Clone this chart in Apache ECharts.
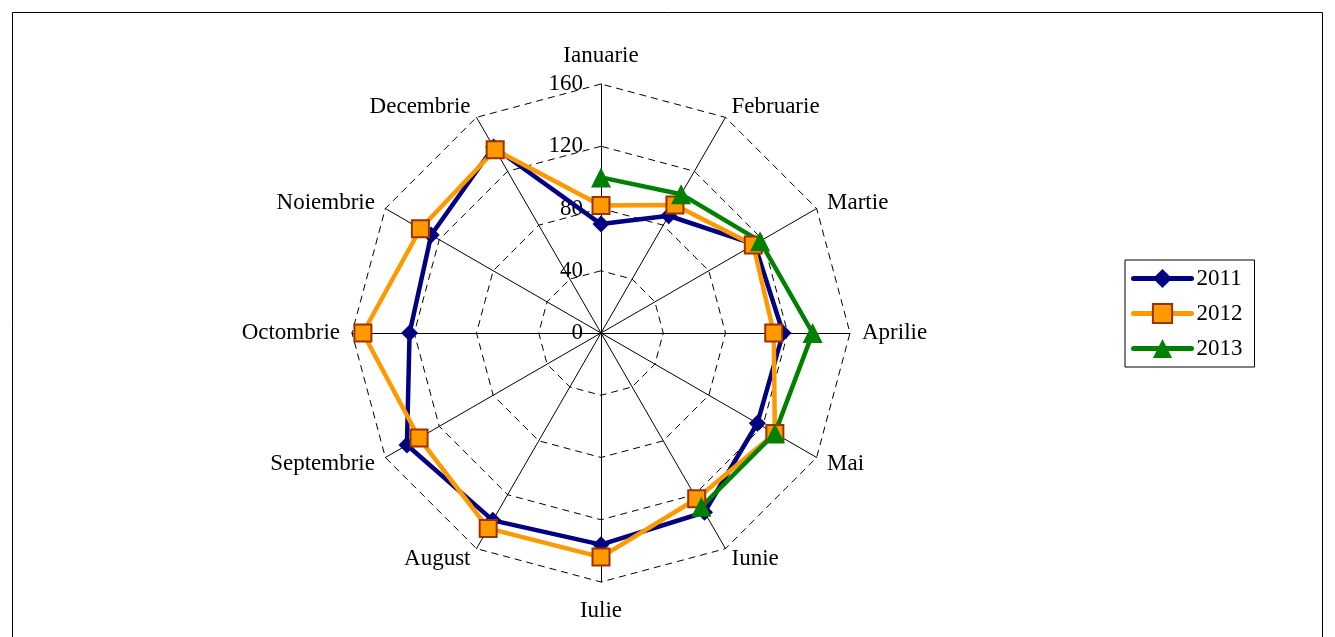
<!DOCTYPE html>
<html><head><meta charset="utf-8">
<script src="https://cdn.jsdelivr.net/npm/echarts@6/dist/echarts.min.js"></script>
<style>html,body{margin:0;padding:0;background:#fff}#c{width:1335px;height:637px}</style>
</head><body><div id="c"></div>
<script>
const months = ['Ianuarie','Februarie','Martie','Aprilie','Mai','Iunie','Iulie','August','Septembrie','Octombrie','Noiembrie','Decembrie'];
const radarMax = 160;
const tickLabels = [0, 40, 80, 120, 160];
const seriesNames = ['2011', '2012', '2013'];
const v2011 = [70, 87, 114, 117, 116, 133, 136, 139, 144, 123, 126, 138];
const v2012 = [82, 95, 113, 111, 129, 123, 144, 145, 135, 153, 134, 136];
const v2013 = [100, 103, 118, 136, 129, 129, null, null, null, null, null, null];

const FONT = 'Liberation Serif';
const n = months.length;

// radar indicators go counter-clockwise, so reorder to keep months clockwise
const indicator = [];
for (let j = 0; j < n; j++) {
  const m = (n - j) % n;
  const ind = { name: months[m], min: 0, max: radarMax };
  if (j !== 0) ind.axisLabel = { show: false };
  if (m === 0 || m === n / 2) ind.nameGap = 17;
  indicator.push(ind);
}

function buildData(vals) {
  const pts = [];
  vals.forEach((v, i) => { if (v != null) pts.push([v, i]); });
  if (vals.every(v => v != null)) pts.push({ value: [vals[0], n], symbol: 'none' });
  return pts;
}

const chart = echarts.init(document.getElementById('c'));
chart.setOption({
  animation: false,
  backgroundColor: '#fff',
  textStyle: { fontFamily: FONT, color: '#000' },
  graphic: [{
    type: 'rect', shape: { x: 12.5, y: 12.5, width: 1310, height: 700 },
    style: { fill: 'none', stroke: '#000', lineWidth: 1 }, silent: true
  }],
  radar: {
    center: [601, 333],
    radius: 249,
    startAngle: 90,
    splitNumber: tickLabels.length - 1,
    shape: 'polygon',
    indicator: indicator,
    nameGap: 12,
    axisName: { color: '#000', fontFamily: FONT, fontSize: 23 },
    splitLine: { lineStyle: { color: '#000', width: 1, type: [7, 5] } },
    splitArea: { show: false },
    axisLine: { lineStyle: { color: '#000', width: 1 } },
    axisTick: { show: false },
    axisLabel: { show: true, color: '#000', fontFamily: FONT, fontSize: 23, margin: 18,
      formatter: v => tickLabels.indexOf(v) >= 0 ? String(v) : '' }
  },
  polar: { center: [601, 333], radius: 249 },
  angleAxis: { type: 'value', min: 0, max: n, startAngle: 90, clockwise: true, show: false },
  radiusAxis: { type: 'value', min: 0, max: radarMax, show: false },
  legend: {
    orient: 'vertical', left: 1125, top: 260,
    data: seriesNames,
    itemWidth: 58, itemHeight: 24, itemGap: 12,
    padding: [7, 12, 7, 6],
    borderColor: '#000', borderWidth: 1,
    lineStyle: { width: 5, cap: 'round' },
    textStyle: { fontFamily: FONT, fontSize: 23, color: '#000' }
  },
  series: [
    { name: seriesNames[0], type: 'line', coordinateSystem: 'polar', data: buildData(v2011),
      symbol: 'diamond', symbolSize: 17,
      lineStyle: { color: '#000080', width: 4.5 }, itemStyle: { color: '#000080' } },
    { name: seriesNames[1], type: 'line', coordinateSystem: 'polar', data: buildData(v2012),
      symbol: 'rect', symbolSize: 17,
      lineStyle: { color: '#FF9900', width: 4.5 },
      itemStyle: { color: '#FF9900', borderColor: '#993300', borderWidth: 2 } },
    { name: seriesNames[2], type: 'line', coordinateSystem: 'polar', data: buildData(v2013),
      symbol: 'triangle', symbolSize: 20,
      lineStyle: { color: '#008000', width: 4.5 }, itemStyle: { color: '#008000' } }
  ]
});
</script></body></html>
